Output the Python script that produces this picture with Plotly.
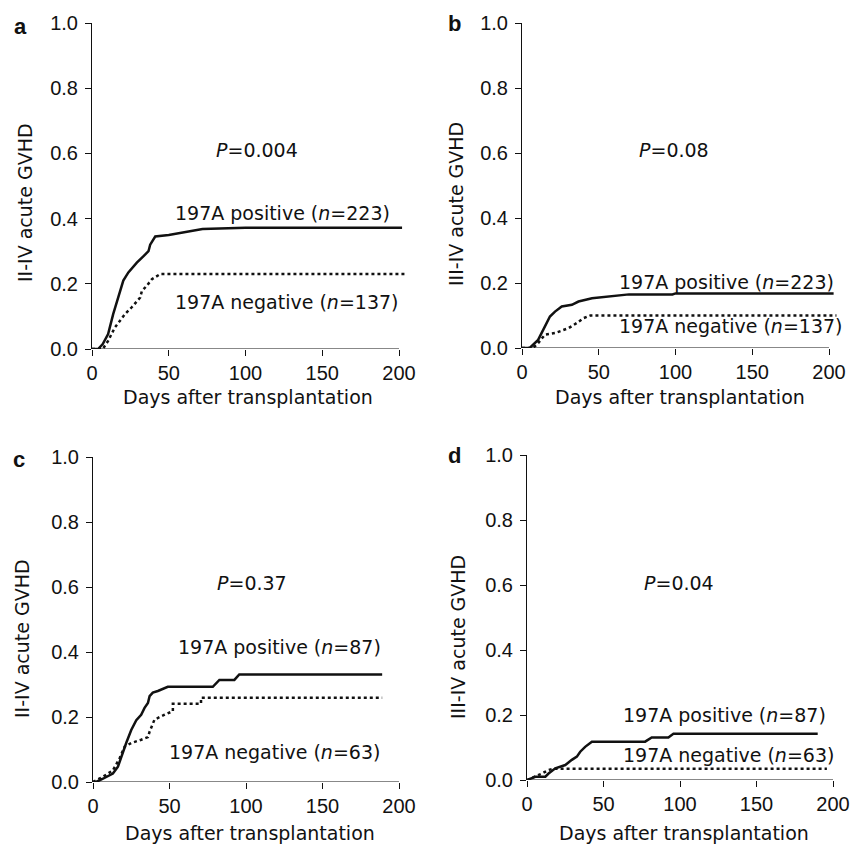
import plotly.graph_objects as go

W, H = 852, 847

# ---------------- data ----------------
days_a_pos = [0, 4, 7, 10.5, 13.8, 17, 20.4, 23.7, 29.2, 33.6, 36.8, 37.9, 41.2, 50, 61, 72, 100, 202]
vals_a_pos = [0, 0, 0.015, 0.046, 0.107, 0.158, 0.21, 0.235, 0.265, 0.285, 0.30, 0.32, 0.345, 0.35, 0.36, 0.368, 0.372, 0.372]
days_a_neg = [0, 7, 10.5, 14.9, 21.5, 25.9, 31.4, 32.5, 35.7, 39, 44.5, 205]
vals_a_neg = [0, 0, 0.025, 0.066, 0.107, 0.128, 0.158, 0.178, 0.194, 0.214, 0.23, 0.23]

days_b_pos = [0, 5, 10.5, 14.9, 18.2, 21.5, 25.9, 32.5, 36.8, 45.6, 58.8, 69.7, 98, 100, 203]
vals_b_pos = [0, 0, 0.025, 0.066, 0.097, 0.112, 0.128, 0.133, 0.143, 0.153, 0.16, 0.165, 0.165, 0.168, 0.168]
days_b_neg = [0, 7.2, 10.5, 14.9, 21.5, 30.3, 35.7, 40.1, 44.5, 205]
vals_b_neg = [0, 0, 0.015, 0.041, 0.046, 0.061, 0.077, 0.092, 0.10, 0.10]

days_c_pos = [0, 2, 6.5, 13, 16.3, 18.5, 21.7, 25, 28.3, 31.5, 33.7, 35.9, 37, 39.1, 42.4, 48.9, 78.3, 82.6, 92.4, 95.6, 189]
vals_c_pos = [0, 0, 0.01, 0.026, 0.047, 0.078, 0.12, 0.16, 0.19, 0.207, 0.228, 0.243, 0.264, 0.275, 0.28, 0.293, 0.293, 0.314, 0.314, 0.331, 0.331]
days_c_neg = [0, 6.5, 13, 17.4, 20.7, 25, 31.5, 35.9, 37, 40.2, 46.8, 52.2, 52.2, 70.6, 70.6, 189]
vals_c_neg = [0, 0.016, 0.036, 0.073, 0.109, 0.12, 0.13, 0.138, 0.155, 0.192, 0.207, 0.218, 0.241, 0.241, 0.259, 0.259]

days_d_pos = [0, 5.4, 12, 14.1, 18.5, 25, 29.3, 32.6, 34.8, 38, 42.4, 77.2, 81.5, 92.4, 95.7, 190]
vals_d_pos = [0, 0.01, 0.01, 0.02, 0.036, 0.046, 0.062, 0.072, 0.087, 0.102, 0.118, 0.118, 0.131, 0.131, 0.142, 0.142]
days_d_neg = [0, 5.4, 9.8, 14.1, 17.4, 196]
vals_d_neg = [0, 0.01, 0.02, 0.031, 0.035, 0.035]

panel_letters = ["a", "b", "c", "d"]
y_titles = ["II-IV acute GVHD", "III-IV acute GVHD", "II-IV acute GVHD", "III-IV acute GVHD"]
x_title = "Days after transplantation"
p_values = ["0.004", "0.08", "0.37", "0.04"]
n_pos = [223, 223, 87, 87]
n_neg = [137, 137, 63, 63]
x_ticks = [0, 50, 100, 150, 200]
y_ticks = [0.0, 0.2, 0.4, 0.6, 0.8, 1.0]

series = [
    (days_a_pos, vals_a_pos, days_a_neg, vals_a_neg),
    (days_b_pos, vals_b_pos, days_b_neg, vals_b_neg),
    (days_c_pos, vals_c_pos, days_c_neg, vals_c_neg),
    (days_d_pos, vals_d_pos, days_d_neg, vals_d_neg),
]

# ---------------- layout geometry (pixels) ----------------
# x pixel of day 0, x pixel of day 200, y pixel of 0.0, y pixel of 1.0
geom = [
    (92, 399, 349, 23),
    (522, 829, 348, 23),
    (93, 399, 782, 457),
    (527, 833, 780, 455),
]
XMAX = 205

letter_pos = [(20, 26), (454, 24), (19, 459), (454, 455)]
ytitle_pos = [(25, 203), (456, 204), (22, 639), (458, 637)]
xtitle_pos = [(248, 397), (680, 397), (250, 833), (684, 833)]
p_pos = [(257, 150), (674, 150), (252, 583), (679, 583)]
pos_lab = [(173, 213), (617, 282), (176, 647), (621, 715)]
neg_lab = [(173, 302), (617, 326), (167, 752), (621, 755)]

TEXT_FONT = dict(family="DejaVu Sans", size=19, color="#111")
TICK_FONT = dict(family="Liberation Sans, Arial", size=20, color="#111")


def fx(px):
    return px / W


def fy(py):
    return 1 - py / H


fig = go.Figure()
annotations = []
shapes = []

for i, (g, s) in enumerate(zip(geom, series)):
    x0, x200, y0, y1 = g
    sfx = "" if i == 0 else str(i + 1)
    xa = "x" + sfx
    ya = "y" + sfx
    pxday = (x200 - x0) / 200.0
    fig.add_trace(go.Scatter(x=s[0], y=s[1], mode="lines", xaxis=xa, yaxis=ya,
                             line=dict(color="#111", width=2.5), hoverinfo="skip"))
    fig.add_trace(go.Scatter(x=s[2], y=s[3], mode="lines", xaxis=xa, yaxis=ya,
                             line=dict(color="#111", width=2.5, dash="3px,3px"), hoverinfo="skip"))
    xdom = [fx(x0), fx(x0 + XMAX * pxday)]
    ydom = [fy(y0), fy(y1)]
    fig.update_layout(**{
        "xaxis" + sfx: dict(domain=xdom, range=[0, XMAX], anchor=ya, tickvals=x_ticks,
                            ticks="outside", ticklen=6, tickcolor="#111", tickwidth=1,
                            showline=False, showgrid=False, zeroline=False, automargin=False,
                            tickfont=TICK_FONT),
        "yaxis" + sfx: dict(domain=ydom, range=[0, 1], anchor=xa, tickvals=y_ticks,
                            tickformat=".1f", ticks="outside", ticklen=6, tickcolor="#111",
                            tickwidth=1, showline=True, linecolor="#111", linewidth=1,
                            showgrid=False, zeroline=False, automargin=False,
                            ticklabelstandoff=3, tickfont=TICK_FONT),
    })
    shapes.append(dict(type="line", xref=xa, yref=ya, x0=0, x1=200, y0=0, y1=0,
                       line=dict(color="#111", width=1), layer="above"))

    # panel letter
    lx, ly = letter_pos[i]
    annotations.append(dict(text="<b>%s</b>" % panel_letters[i], x=fx(lx), y=fy(ly),
                            xref="paper", yref="paper", showarrow=False,
                            xanchor="center", yanchor="middle",
                            font=dict(family="Liberation Sans, Arial", size=22, color="#111")))
    # y title
    tx, ty = ytitle_pos[i]
    annotations.append(dict(text=y_titles[i], x=fx(tx), y=fy(ty), xref="paper", yref="paper",
                            showarrow=False, textangle=-90, xanchor="center", yanchor="middle",
                            font=TEXT_FONT))
    # x title
    tx, ty = xtitle_pos[i]
    annotations.append(dict(text=x_title, x=fx(tx), y=fy(ty), xref="paper", yref="paper",
                            showarrow=False, xanchor="center", yanchor="middle", font=TEXT_FONT))
    # P value
    tx, ty = p_pos[i]
    annotations.append(dict(text="<i>P</i>=" + p_values[i], x=fx(tx), y=fy(ty),
                            xref="paper", yref="paper", showarrow=False,
                            xanchor="center", yanchor="middle", font=TEXT_FONT))
    # series labels
    tx, ty = pos_lab[i]
    annotations.append(dict(text="197A positive (<i>n</i>=%d)" % n_pos[i], x=fx(tx), y=fy(ty),
                            xref="paper", yref="paper", showarrow=False,
                            xanchor="left", yanchor="middle", font=TEXT_FONT))
    tx, ty = neg_lab[i]
    annotations.append(dict(text="197A negative (<i>n</i>=%d)" % n_neg[i], x=fx(tx), y=fy(ty),
                            xref="paper", yref="paper", showarrow=False,
                            xanchor="left", yanchor="middle", font=TEXT_FONT))

fig.update_layout(width=W, height=H, margin=dict(l=0, r=0, t=0, b=0),
                  paper_bgcolor="white", plot_bgcolor="white", showlegend=False,
                  annotations=annotations, shapes=shapes)

fig.write_html("out.html", config={"displayModeBar": False},
               post_script="document.body.style.margin='0';document.body.style.overflow='hidden';")
